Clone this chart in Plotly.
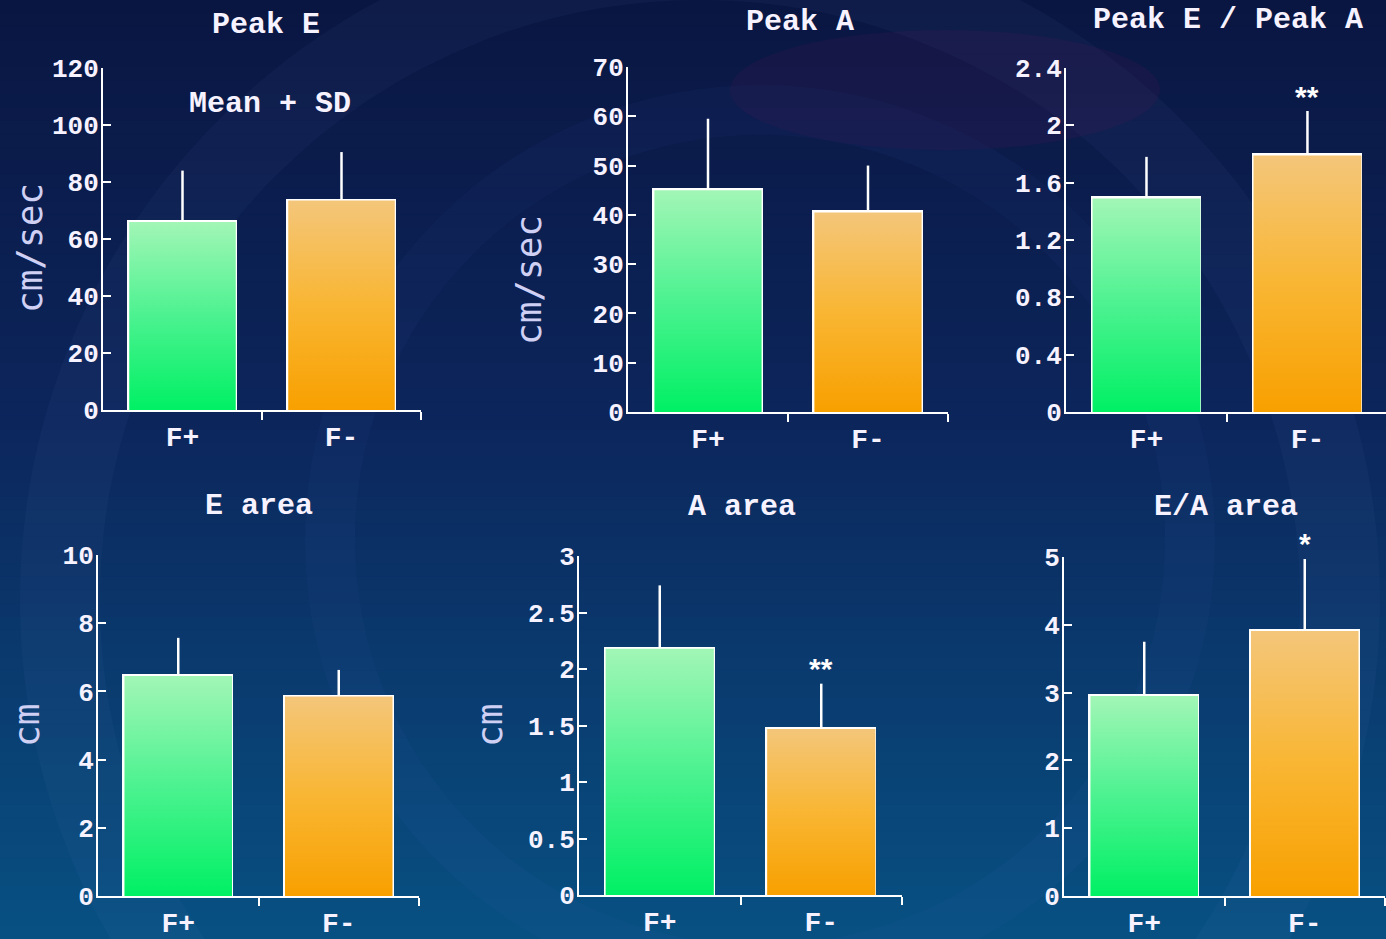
import plotly.graph_objects as go

W, H = 1386, 939

groups = ["F+", "F-"]

panel_titles = ["Peak E", "Peak A", "Peak E / Peak A", "E area", "A area", "E/A area"]
y_titles = ["cm/sec", "cm/sec", "", "cm", "cm", ""]

peak_e_mean = [66.0, 73.5]
peak_e_sd = [18.0, 17.0]
peak_a_mean = [45.0, 40.5]
peak_a_sd = [14.5, 9.5]
ratio_mean = [1.49, 1.79]
ratio_sd = [0.29, 0.31]
e_area_mean = [6.45, 5.85]
e_area_sd = [1.12, 0.78]
a_area_mean = [2.18, 1.47]
a_area_sd = [0.56, 0.40]
ea_area_mean = [2.95, 3.91]
ea_area_sd = [0.80, 1.06]

means = [peak_e_mean, peak_a_mean, ratio_mean, e_area_mean, a_area_mean, ea_area_mean]
sds = [peak_e_sd, peak_a_sd, ratio_sd, e_area_sd, a_area_sd, ea_area_sd]

y_tickvals = [
    [0, 20, 40, 60, 80, 100, 120],
    [0, 10, 20, 30, 40, 50, 60, 70],
    [0, 0.4, 0.8, 1.2, 1.6, 2.0, 2.4],
    [0, 2, 4, 6, 8, 10],
    [0, 0.5, 1, 1.5, 2, 2.5, 3],
    [0, 1, 2, 3, 4, 5],
]
y_ticktext = [
    ["0", "20", "40", "60", "80", "100", "120"],
    ["0", "10", "20", "30", "40", "50", "60", "70"],
    ["0", "0.4", "0.8", "1.2", "1.6", "2", "2.4"],
    ["0", "2", "4", "6", "8", "10"],
    ["0", "0.5", "1", "1.5", "2", "2.5", "3"],
    ["0", "1", "2", "3", "4", "5"],
]
y_max = [120, 70, 2.4, 10, 3, 5]

# significance marks: (panel, group index, y position in data units, text)
sig_marks = [(2, 1, 2.25, "**"), (4, 1, 2.07, "**"), (5, 1, 5.3, "*")]

# layout (pixel geometry)
x_px = [(103, 421), (628, 948), (1066, 1386), (98, 419), (579, 902), (1064, 1385)]
y_px = [(68, 410), (67, 412), (68, 412), (555, 896), (556, 895), (557, 896)]
x_ranges = [[-0.5, 1.5], [-0.5, 1.5], [-0.5, 1.488], [-0.5, 1.5], [-0.5, 1.5], [-0.5, 1.5]]
title_px = [(266, 25), (800, 22), (1228, 20), (259, 506), (742, 507), (1226, 507)]
ytitle_px = [(30, 248), (528, 280), None, (26, 726), (489, 726), None]

green_scale = [[0, "#00f064"], [0.5, "#4cf290"], [1, "#a2f6b6"]]
orange_scale = [[0, "#f8a000"], [0.5, "#f9b633"], [1, "#f4c67a"]]
bar_w = 0.67
mono = "Liberation Mono"
txt = "#f6f2ff"

fig = go.Figure()

# background gradient bands
top = (10, 22, 66)
mid = (12, 38, 92)
bot = (8, 80, 130)
n = 70
shapes = []
for i in range(n):
    t = i / (n - 1)
    if t < 0.45:
        u = t / 0.45
        c = [round(top[k] + (mid[k] - top[k]) * u) for k in range(3)]
    else:
        u = (t - 0.45) / 0.55
        c = [round(mid[k] + (bot[k] - mid[k]) * u) for k in range(3)]
    y0 = 1 - i / n
    y1 = 1 - (i + 1) / n
    shapes.append(dict(type="rect", xref="paper", yref="paper", x0=0, x1=1, y0=y1 - 0.002, y1=y0,
                       fillcolor=f"rgb({c[0]},{c[1]},{c[2]})", line=dict(width=0), layer="below"))
# decorative swooshes
shapes.append(dict(type="circle", xref="paper", yref="paper",
                   x0=(700 - 640) / W, x1=(700 + 640) / W, y0=1 - (600 + 640) / H, y1=1 - (600 - 640) / H,
                   line=dict(color="rgba(140,170,235,0.045)", width=80), layer="below"))
shapes.append(dict(type="circle", xref="paper", yref="paper",
                   x0=(760 - 430) / W, x1=(760 + 430) / W, y0=1 - (540 + 430) / H, y1=1 - (540 - 430) / H,
                   line=dict(color="rgba(110,140,220,0.04)", width=50), layer="below"))
shapes.append(dict(type="circle", xref="paper", yref="paper",
                   x0=730 / W, x1=1160 / W, y0=1 - 150 / H, y1=1 - 30 / H,
                   fillcolor="rgba(80,25,85,0.16)", line=dict(width=0), layer="below"))

annotations = []
for p in range(6):
    ax = "" if p == 0 else str(p + 1)
    xa, ya = "x" + ax, "y" + ax
    m, s = means[p], sds[p]
    for g in range(2):
        xc = g
        xs = [xc - bar_w / 2, xc - bar_w / 2, xc + bar_w / 2, xc + bar_w / 2, xc - bar_w / 2]
        ys = [0, m[g], m[g], 0, 0]
        fig.add_trace(go.Scatter(
            x=xs, y=ys, xaxis=xa, yaxis=ya, mode="lines", fill="toself",
            line=dict(width=0, color="rgba(0,0,0,0)"),
            fillgradient=dict(type="vertical", colorscale=green_scale if g == 0 else orange_scale,
                              start=0, stop=m[g]),
            showlegend=False, hoverinfo="skip"))
    fig.add_trace(go.Bar(
        x=[0, 1], y=m, xaxis=xa, yaxis=ya, width=bar_w,
        marker=dict(color="rgba(0,0,0,0)", line=dict(color="white", width=3)),
        error_y=dict(type="data", array=s, arrayminus=[0, 0], symmetric=False,
                     color="white", thickness=2.5, width=0),
        showlegend=False, cliponaxis=False))

    x0, x1 = x_px[p]
    yt, yb = y_px[p]
    fig.layout["xaxis" + ax] = dict(
        domain=[x0 / W, min(x1, W) / W], range=x_ranges[p], anchor=ya, automargin=False,
        tickmode="array", tickvals=[0, 1], ticktext=groups, ticks="",
        showline=True, linecolor="white", linewidth=2, showgrid=False, zeroline=False,
        tickfont=dict(family=mono, size=28, color=txt, weight="bold"),
        minor=dict(tickmode="array", tickvals=[0.5, 1.5], ticks="outside", ticklen=8,
                   tickwidth=2, tickcolor="white", showgrid=False),
        fixedrange=True)
    fig.layout["yaxis" + ax] = dict(
        domain=[1 - yb / H, 1 - yt / H], range=[0, y_max[p]], anchor=xa, automargin=False,
        tickmode="array", tickvals=y_tickvals[p], ticktext=y_ticktext[p],
        ticks="inside", ticklen=8, tickwidth=2, tickcolor="white",
        showline=True, linecolor="white", linewidth=2, showgrid=False, zeroline=False,
        tickfont=dict(family=mono, size=26, color=txt, weight="bold"), ticklabelstandoff=-3,
        fixedrange=True)

    tx, ty = title_px[p]
    annotations.append(dict(text=panel_titles[p], x=tx / W, y=1 - ty / H, xref="paper", yref="paper",
                            showarrow=False, xanchor="center", yanchor="middle",
                            font=dict(family=mono, size=30, color=txt, weight="bold")))
    if ytitle_px[p] is not None:
        yx, yy = ytitle_px[p]
        annotations.append(dict(text=y_titles[p], x=yx / W, y=1 - yy / H, xref="paper", yref="paper",
                                showarrow=False, textangle=-90, xanchor="center", yanchor="middle",
                                font=dict(family="DejaVu Sans Mono", size=36, color="#cfd0f4")))

annotations.append(dict(text="Mean + SD", x=270 / W, y=1 - 104 / H, xref="paper", yref="paper",
                        showarrow=False, xanchor="center", yanchor="middle",
                        font=dict(family=mono, size=30, color=txt, weight="bold")))

for p, g, yv, t in sig_marks:
    ax = "" if p == 0 else str(p + 1)
    annotations.append(dict(text=t, x=g, y=yv / y_max[p], xref="x" + ax, yref="y" + ax + " domain",
                            showarrow=False, xanchor="center", yanchor="middle", yshift=-7,
                            font=dict(family="Liberation Sans", size=30, color="white", weight="bold")))

fig.update_layout(
    width=W, height=H, margin=dict(l=0, r=0, t=0, b=0, autoexpand=False),
    paper_bgcolor="#0c2558", plot_bgcolor="rgba(0,0,0,0)",
    shapes=shapes, annotations=annotations, showlegend=False, bargap=0)

fig.write_html("out.html")
